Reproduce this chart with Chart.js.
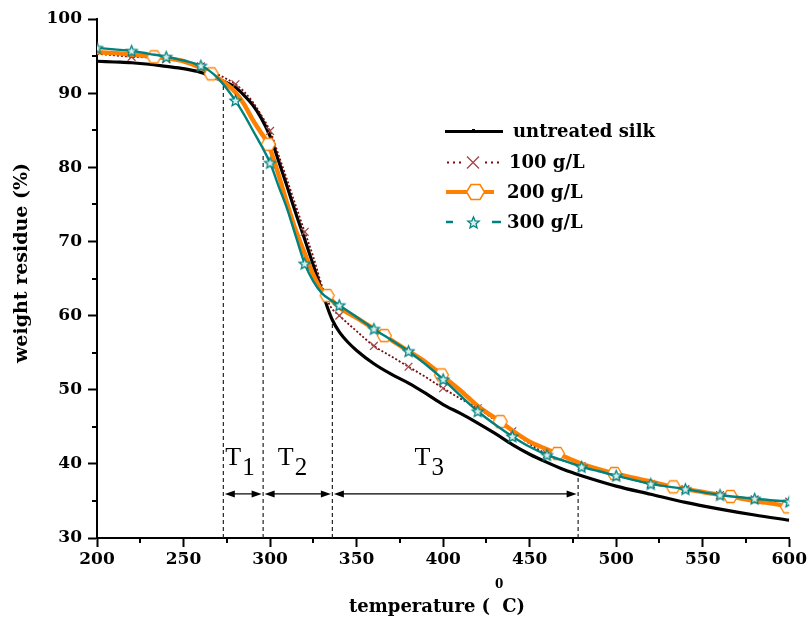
<!DOCTYPE html>
<html>
<head>
<meta charset="utf-8">
<title>TGA curves of silk</title>
<script src="https://cdn.jsdelivr.net/npm/chart.js@4.4.1/dist/chart.umd.min.js"></script>
<style>
  html, body { margin: 0; padding: 0; background: #fff; }
  #wrap { width: 809px; height: 621px; }
</style>
</head>
<body>
<div id="wrap"><canvas id="tga" width="809" height="621"></canvas></div>
<script>
// ---- series: temperature (°C) and weight residue (%) ----
const seriesNames = ['untreated silk', '100 g/L', '200 g/L', '300 g/L'];

const untreatedTemp = [200,210,220,230,240,250,260,270,275,280,285,290,295,300,305,310,315,320,325,330,333,336,340,345,350,360,370,380,390,400,410,420,430,440,450,460,470,480,500,520,540,560,580,600];
const untreatedResidue = [94.3,94.2,94.1,93.9,93.6,93.3,92.8,91.9,91.4,90.8,89.7,88.4,86.6,84.2,80.8,77.3,73.7,70.3,66.8,63.3,61.2,59.4,57.8,56.4,55.3,53.5,52.1,50.9,49.5,48.0,46.8,45.5,44.1,42.6,41.3,40.2,39.2,38.4,37.0,35.9,34.8,33.9,33.1,32.4];

const g100Temp = [200,210,220,230,240,250,260,270,280,285,290,295,300,305,310,315,320,325,330,335,340,350,360,370,380,390,400,410,420,430,440,450,460,470,480,490,500,520,540,560,580,600];
const g100Residue = [95.3,95.1,94.9,94.8,94.6,94.2,93.6,92.5,91.2,90.2,88.8,87.0,84.9,81.6,78.2,74.7,71.3,67.9,64.0,61.2,60.0,57.9,55.9,54.5,53.1,51.7,50.2,48.8,47.5,45.9,44.4,42.7,41.3,40.4,39.7,39.0,38.4,37.3,36.6,35.8,35.2,34.9];

const g200Temp = [200,210,220,233,240,250,260,266,270,275,280,285,290,295,299,305,310,315,320,325,330,333,340,350,360,366,380,390,399,410,420,433,440,450,466,480,499,520,533,550,566,580,599,600];
const g200Residue = [95.5,95.4,95.2,94.9,94.7,94.3,93.4,92.6,92.0,91.2,90.1,88.5,86.4,84.6,83.1,78.9,75.0,71.4,68.4,65.5,63.3,62.7,61.1,59.7,58.2,57.3,55.2,53.7,52.0,49.9,47.8,45.7,44.5,43.0,41.4,40.0,38.7,37.6,36.9,36.2,35.6,35.0,34.2,34.1];

const g300Temp = [200,210,220,230,240,250,260,265,270,275,280,285,290,295,300,305,310,315,320,325,330,335,340,350,360,370,380,390,400,410,420,430,440,450,460,470,480,490,500,520,540,560,580,600];
const g300Residue = [96.1,95.9,95.7,95.3,94.9,94.4,93.7,93.0,92.0,90.6,89.0,87.1,85.0,82.9,80.6,77.4,74.3,70.6,67.0,64.6,63.0,62.1,61.4,59.8,58.2,56.7,55.2,53.4,51.4,49.2,47.1,45.3,43.7,42.3,41.2,40.4,39.6,39.0,38.4,37.3,36.6,35.8,35.3,34.9];

// temperatures carrying a symbol on each curve
const g100Marks = [220,240,260,280,300,320,340,360,380,400,420,440,460,480,500,520,540,560,580,600];
const g200Marks = [233,266,299,333,366,399,433,466,499,533,566,599];
const g300Marks = [200,220,240,260,280,300,320,340,360,380,400,420,440,460,480,500,520,540,560,580,600];

// decomposition stages: boundaries, where the dashed markers meet the curves, labels
const stageBounds = [273, 296, 336, 478];
const stageTops = [91.8, 81.6, 59.4, 38.4];
const stageLabels = ['1', '2', '3'];
const stageLabelX = [282.6, 313, 392];
const stageLabelY = 39.9;
const stageArrowY = 35.95;

// axes
const xRange = [200, 600], xMajor = 50, xMinor = 25;
const yRange = [30, 100], yMajor = 10, yMinor = 5;

// ---- helpers ----
const BOLD = '"DejaVu Serif", "Liberation Serif", serif';
const pts = (ts, ws) => ts.map((t, i) => ({ x: t, y: ws[i] }));
const markAt = (marks, r) => (c) => (c.raw && marks.includes(c.raw.x)) ? r : 0;

function hexImage(w, h, color, lw) {
  const c = document.createElement('canvas');
  c.width = Math.ceil(w + lw * 2 + 2); c.height = Math.ceil(h + lw * 2 + 2);
  const g = c.getContext('2d');
  const cx = c.width / 2, cy = c.height / 2;
  g.beginPath();
  g.moveTo(cx - w / 2, cy); g.lineTo(cx - w / 4, cy - h / 2); g.lineTo(cx + w / 4, cy - h / 2);
  g.lineTo(cx + w / 2, cy); g.lineTo(cx + w / 4, cy + h / 2); g.lineTo(cx - w / 4, cy + h / 2);
  g.closePath();
  g.fillStyle = '#fff'; g.fill();
  g.strokeStyle = color; g.lineWidth = lw; g.stroke();
  return c;
}
function starImage(R, color, lw) {
  const size = Math.ceil(R * 2 + lw * 2 + 2);
  const c = document.createElement('canvas');
  c.width = size; c.height = size;
  const g = c.getContext('2d');
  const cx = size / 2, cy = size / 2 + 0.5, r = R * 0.45;
  g.beginPath();
  for (let i = 0; i < 10; i++) {
    const a = -Math.PI / 2 + i * Math.PI / 5;
    const rr = i % 2 ? r : R;
    const px = cx + rr * Math.cos(a), py = cy + rr * Math.sin(a);
    i ? g.lineTo(px, py) : g.moveTo(px, py);
  }
  g.closePath();
  g.fillStyle = '#d8f0ee'; g.fill();
  g.strokeStyle = color; g.lineWidth = lw; g.stroke();
  return c;
}

const COL_BLACK = '#000000', COL_RED = '#7a0a0a', COL_RED_MARK = '#a3484a', COL_ORANGE = '#ff8000', COL_TEAL = '#00827f';
const hexPlot = hexImage(14, 12, COL_ORANGE, 1.3);
const hexLegend = hexImage(18, 15, COL_ORANGE, 1.5);
const starPlot = starImage(5.8, COL_TEAL, 1.3);
const starLegend = starImage(6, COL_TEAL, 1.3);

// dashed stage boundaries as two-point lines
const boundarySets = stageBounds.map((t, i) => ({
  data: [{ x: t, y: yRange[0] }, { x: t, y: stageTops[i] }],
  borderColor: '#222', borderWidth: 1.2, borderDash: [4, 3],
  pointRadius: 0, tension: 0, order: 10
}));

const datasets = [
  { label: seriesNames[0], data: pts(untreatedTemp, untreatedResidue), borderColor: COL_BLACK, borderWidth: 3.2,
    pointRadius: 0, cubicInterpolationMode: 'monotone', order: 4 },
  { label: seriesNames[1], data: pts(g100Temp, g100Residue), borderColor: COL_RED, borderWidth: 1.8, borderDash: [2, 2],
    pointRadius: markAt(g100Marks, 5.5), pointStyle: 'crossRot', pointBorderColor: COL_RED_MARK, pointBorderWidth: 1.3,
    cubicInterpolationMode: 'monotone', order: 3 },
  { label: seriesNames[2], data: pts(g200Temp, g200Residue), borderColor: COL_ORANGE, borderWidth: 4.5,
    pointRadius: markAt(g200Marks, 6), pointStyle: hexPlot, cubicInterpolationMode: 'monotone', order: 2 },
  { label: seriesNames[3], data: pts(g300Temp, g300Residue), borderColor: COL_TEAL, borderWidth: 2.4,
    pointRadius: markAt(g300Marks, 5), pointStyle: starPlot, cubicInterpolationMode: 'monotone', order: 1 },
  ...boundarySets
];

function arrowHead(ctx, x, y, dir) {
  ctx.beginPath();
  ctx.moveTo(x, y);
  ctx.lineTo(x - dir * 10, y - 3.5);
  ctx.lineTo(x - dir * 10, y + 3.5);
  ctx.closePath();
  ctx.fill();
}

// minor ticks, stage arrows and labels, legend, axis titles
const decor = {
  id: 'decor',
  afterDraw(chart) {
    const { ctx, scales: { x, y }, chartArea: a } = chart;
    ctx.save();
    ctx.strokeStyle = '#000'; ctx.fillStyle = '#000'; ctx.lineWidth = 2;

    // minor ticks
    ctx.beginPath();
    for (let v = xRange[0] + xMinor; v < xRange[1]; v += xMajor) {
      const px = Math.round(x.getPixelForValue(v));
      ctx.moveTo(px, a.bottom); ctx.lineTo(px, a.bottom + 5);
    }
    for (let v = yRange[0] + yMinor; v < yRange[1]; v += yMajor) {
      const py = Math.round(y.getPixelForValue(v));
      ctx.moveTo(a.left - 5, py); ctx.lineTo(a.left, py);
    }
    ctx.stroke();

    // stage arrows
    const ay = y.getPixelForValue(stageArrowY);
    ctx.lineWidth = 1.2;
    for (let i = 0; i < stageLabels.length; i++) {
      const x0 = x.getPixelForValue(stageBounds[i]) + 1.5;
      const x1 = x.getPixelForValue(stageBounds[i + 1]) - 1.5;
      ctx.beginPath(); ctx.moveTo(x0 + 4, ay); ctx.lineTo(x1 - 4, ay); ctx.stroke();
      arrowHead(ctx, x0, ay, -1);
      arrowHead(ctx, x1, ay, 1);
    }

    // stage labels T1, T2, T3
    const ly = y.getPixelForValue(stageLabelY);
    ctx.textBaseline = 'alphabetic'; ctx.textAlign = 'left';
    for (let i = 0; i < stageLabels.length; i++) {
      ctx.font = '26px "Liberation Serif", serif';
      const wT = ctx.measureText('T').width;
      ctx.font = '25px "Liberation Serif", serif';
      const wD = ctx.measureText(stageLabels[i]).width;
      const cx = x.getPixelForValue(stageLabelX[i]);
      const sx = cx - (wT + wD + 1) / 2;
      ctx.font = '26px "Liberation Serif", serif';
      ctx.fillText('T', sx, ly);
      ctx.font = '25px "Liberation Serif", serif';
      ctx.fillText(stageLabels[i], sx + wT + 1, ly + 10);
    }

    // legend
    const legendY = [131.5, 162.5, 192, 222];
    const legendTextX = [513, 509, 507, 507];
    // untreated silk
    ctx.lineWidth = 3.2; ctx.setLineDash([]);
    ctx.beginPath(); ctx.moveTo(445, legendY[0]); ctx.lineTo(503, legendY[0]); ctx.stroke();
    ctx.fillRect(472, legendY[0] - 2.5, 3, 3);
    // 100 g/L
    ctx.strokeStyle = COL_RED; ctx.lineWidth = 1.8; ctx.setLineDash([2, 4]);
    ctx.beginPath(); ctx.moveTo(447, legendY[1]); ctx.lineTo(462, legendY[1]);
    ctx.moveTo(485, legendY[1]); ctx.lineTo(501, legendY[1]); ctx.stroke();
    ctx.setLineDash([]);
    ctx.strokeStyle = COL_RED_MARK; ctx.lineWidth = 1.4;
    ctx.beginPath();
    ctx.moveTo(467, legendY[1] - 6); ctx.lineTo(479, legendY[1] + 6);
    ctx.moveTo(479, legendY[1] - 6); ctx.lineTo(467, legendY[1] + 6);
    ctx.stroke();
    // 200 g/L
    ctx.strokeStyle = COL_ORANGE; ctx.lineWidth = 4;
    ctx.beginPath(); ctx.moveTo(446, legendY[2]); ctx.lineTo(494, legendY[2]); ctx.stroke();
    ctx.drawImage(hexLegend, Math.round(475 - hexLegend.width / 2), Math.round(legendY[2] - hexLegend.height / 2));
    // 300 g/L
    ctx.strokeStyle = COL_TEAL; ctx.lineWidth = 2.4;
    ctx.beginPath(); ctx.moveTo(446, legendY[3]); ctx.lineTo(453, legendY[3]);
    ctx.moveTo(492, legendY[3]); ctx.lineTo(501, legendY[3]); ctx.stroke();
    ctx.drawImage(starLegend, Math.round(473 - starLegend.width / 2), Math.round(legendY[3] - starLegend.height / 2));
    // legend texts
    ctx.fillStyle = '#000'; ctx.font = 'bold 18px ' + BOLD; ctx.textBaseline = 'middle'; ctx.textAlign = 'left';
    seriesNames.forEach((n, i) => ctx.fillText(n, legendTextX[i], legendY[i] + 1));

    // axis titles
    ctx.font = 'bold 19px ' + BOLD;
    ctx.save();
    ctx.translate(22, 263); ctx.rotate(-Math.PI / 2);
    ctx.textAlign = 'center'; ctx.textBaseline = 'middle';
    ctx.fillText('weight residue (%)', 0, 0);
    ctx.restore();

    ctx.font = 'bold 18px ' + BOLD;
    const part1 = 'temperature (', part2 = 'C)', gap = 12;
    const w1 = ctx.measureText(part1).width, w2 = ctx.measureText(part2).width;
    const sx = 437 - (w1 + gap + w2) / 2;
    ctx.textAlign = 'left'; ctx.textBaseline = 'alphabetic';
    ctx.fillText(part1, sx, 612);
    ctx.fillText(part2, sx + w1 + gap, 612);
    ctx.font = 'bold 12px ' + BOLD;
    ctx.textAlign = 'center';
    ctx.fillText('0', sx + w1 + gap / 2 + 3, 588);
    ctx.restore();
  }
};

const tickFont = { family: BOLD, weight: 'bold', size: 17 };

new Chart(document.getElementById('tga'), {
  type: 'line',
  data: { datasets },
  options: {
    responsive: false,
    animation: false,
    devicePixelRatio: 1,
    layout: { padding: { top: 19, right: 19, left: 0, bottom: 0 } },
    plugins: { legend: { display: false }, tooltip: { enabled: false } },
    scales: {
      x: {
        type: 'linear', min: xRange[0], max: xRange[1],
        afterFit(s) { s.height = 83; },
        ticks: { stepSize: xMajor, font: tickFont, color: '#000', padding: 2, maxRotation: 0, autoSkip: false },
        grid: { drawOnChartArea: false, drawTicks: true, tickLength: 9, tickWidth: 2, tickColor: '#000' },
        border: { display: true, color: '#000', width: 2 }
      },
      y: {
        type: 'linear', min: yRange[0], max: yRange[1],
        afterFit(s) { s.width = 97; },
        ticks: { stepSize: yMajor, font: tickFont, color: '#000', padding: 6 },
        grid: { drawOnChartArea: false, drawTicks: true, tickLength: 9, tickWidth: 2, tickColor: '#000' },
        border: { display: true, color: '#000', width: 2 }
      }
    }
  },
  plugins: [decor]
});
</script>
</body>
</html>
